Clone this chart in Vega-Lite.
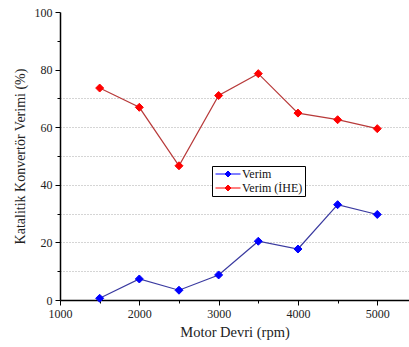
{
  "$schema": "https://vega.github.io/schema/vega-lite/v6.json",
  "width": 349,
  "height": 288,
  "autosize": "none",
  "padding": {"left": 60, "top": 12, "right": 0, "bottom": 47},
  "background": "white",
  "config": {"font": "Liberation Serif", "view": {"stroke": null}},
  "data": {
    "values": [
      {"rpm": 1500, "verim": 0.6, "seri": "Verim"},
      {"rpm": 2000, "verim": 7.3, "seri": "Verim"},
      {"rpm": 2500, "verim": 3.4, "seri": "Verim"},
      {"rpm": 3000, "verim": 8.7, "seri": "Verim"},
      {"rpm": 3500, "verim": 20.4, "seri": "Verim"},
      {"rpm": 4000, "verim": 17.7, "seri": "Verim"},
      {"rpm": 4500, "verim": 33.1, "seri": "Verim"},
      {"rpm": 5000, "verim": 29.7, "seri": "Verim"},
      {"rpm": 1500, "verim": 73.6, "seri": "Verim (İHE)"},
      {"rpm": 2000, "verim": 66.9, "seri": "Verim (İHE)"},
      {"rpm": 2500, "verim": 46.6, "seri": "Verim (İHE)"},
      {"rpm": 3000, "verim": 71.0, "seri": "Verim (İHE)"},
      {"rpm": 3500, "verim": 78.6, "seri": "Verim (İHE)"},
      {"rpm": 4000, "verim": 64.9, "seri": "Verim (İHE)"},
      {"rpm": 4500, "verim": 62.6, "seri": "Verim (İHE)"},
      {"rpm": 5000, "verim": 59.5, "seri": "Verim (İHE)"}
    ]
  },
  "encoding": {
    "x": {
      "field": "rpm",
      "type": "quantitative",
      "scale": {"domain": [1000, 5400], "nice": false, "zero": false},
      "axis": {
        "title": "Motor Devri (rpm)",
        "values": [1000, 1500, 2000, 2500, 3000, 3500, 4000, 4500, 5000],
        "format": "d",
        "labelExpr": "datum.value % 1000 == 0 ? datum.label : ''",
        "tickSize": {"condition": {"test": "datum.value % 1000 == 0", "value": 5}, "value": 3},
        "grid": false,
        "domainColor": "#000",
        "domainWidth": 1.5,
        "tickColor": "#000",
        "labelColor": "#222",
        "labelFontSize": 12,
        "labelPadding": 3,
        "labelFlush": false,
        "titleFontSize": 14.5,
        "titleFontWeight": "normal",
        "titleColor": "#222",
        "titlePadding": 6
      }
    },
    "y": {
      "field": "verim",
      "type": "quantitative",
      "scale": {"domain": [0, 100], "nice": false},
      "axis": {
        "title": "Katalitik Konvertör Verimi (%)",
        "values": [0, 10, 20, 30, 40, 50, 60, 70, 80, 90, 100],
        "labelExpr": "datum.value % 20 == 0 ? datum.label : ''",
        "tickSize": {"condition": {"test": "datum.value % 20 == 0", "value": 5}, "value": 3},
        "grid": true,
        "gridDash": [1, 2],
        "gridColor": "#aaa",
        "gridOpacity": {"condition": {"test": "datum.value > 0 && datum.value <= 70", "value": 1}, "value": 0},
        "domainColor": "#000",
        "domainWidth": 1.5,
        "tickColor": "#000",
        "labelColor": "#222",
        "labelFontSize": 12,
        "labelPadding": 3,
        "labelFlush": false,
        "titleFontSize": 14,
        "titleFontWeight": "normal",
        "titleColor": "#222",
        "titlePadding": 7
      }
    }
  },
  "layer": [
    {
      "mark": {"type": "line", "strokeWidth": 1.2},
      "encoding": {
        "detail": {"field": "seri", "type": "nominal"},
        "stroke": {"condition": {"test": "datum.seri == 'Verim'", "value": "#3a3aa0"}, "value": "#b83a3a"}
      }
    },
    {
      "mark": {"type": "point", "shape": "diamond", "filled": true, "size": 64, "opacity": 1, "strokeWidth": 1},
      "encoding": {
        "fill": {
          "field": "seri",
          "type": "nominal",
          "scale": {"domain": ["Verim", "Verim (İHE)"], "range": ["#0000ff", "#ff0000"]},
          "legend": {
            "title": null,
            "orient": "none",
            "legendX": 152,
            "legendY": 154,
            "symbolType": "M-2.5,0H2.5M0,-0.6L0.6,0L0,0.6L-0.6,0Z",
            "symbolSize": 100,
            "symbolStrokeWidth": 1,
            "symbolOffset": 8,
            "labelFontSize": 12,
            "labelColor": "#111",
            "strokeColor": "#000",
            "fillColor": "white",
            "padding": 2,
            "rowPadding": 2,
            "labelOffset": 8
          }
        },
        "stroke": {
          "field": "seri",
          "type": "nominal",
          "scale": {"domain": ["Verim", "Verim (İHE)"], "range": ["#0000ff", "#ff0000"]}
        }
      }
    }
  ]
}
